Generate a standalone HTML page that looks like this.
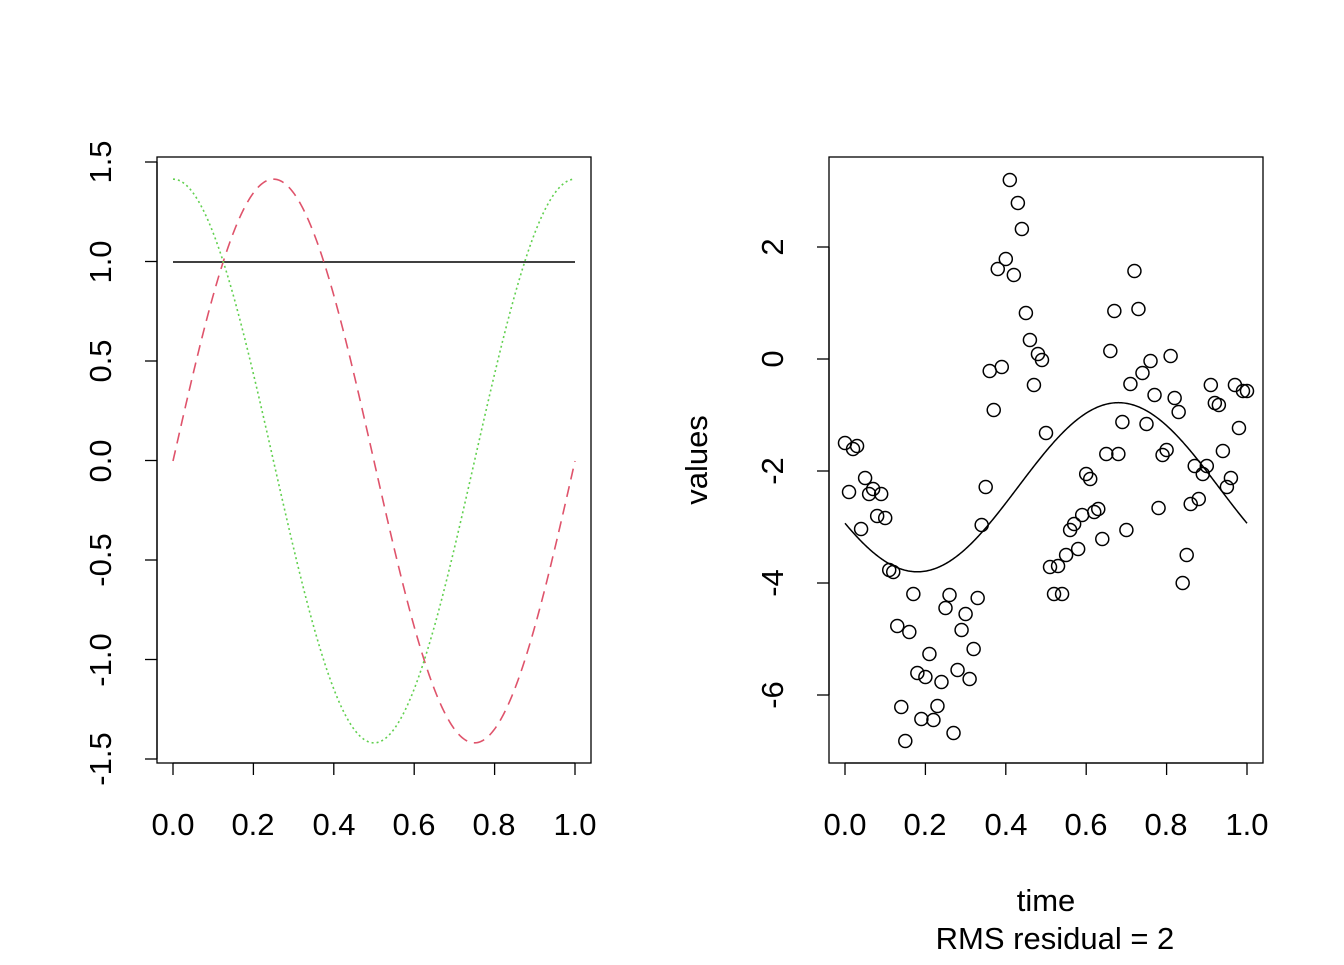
<!DOCTYPE html>
<html><head><meta charset="utf-8"><style>
html,body{margin:0;padding:0;background:#fff;}
svg text{font-family:"Liberation Sans",Arial,sans-serif;font-size:31px;fill:#000;}
</style></head><body>
<svg id="s" width="1344" height="960" xmlns="http://www.w3.org/2000/svg">
<rect width="1344" height="960" fill="#fff"/>
<rect x="157" y="157" width="434" height="606" fill="none" stroke="#000" stroke-width="1.3"/>
<g id="lx" stroke="#000" stroke-width="1.3"></g>
<g text-anchor="middle">
<text x="173" y="835">0.0</text><text x="253" y="835">0.2</text><text x="334" y="835">0.4</text>
<text x="414" y="835">0.6</text><text x="494" y="835">0.8</text><text x="575" y="835">1.0</text>
</g>
<g text-anchor="middle">
<text transform="translate(111,162) rotate(-90)">1.5</text>
<text transform="translate(111,262) rotate(-90)">1.0</text>
<text transform="translate(111,361) rotate(-90)">0.5</text>
<text transform="translate(111,461) rotate(-90)">0.0</text>
<text transform="translate(111,560) rotate(-90)">-0.5</text>
<text transform="translate(111,660) rotate(-90)">-1.0</text>
<text transform="translate(111,759) rotate(-90)">-1.5</text>
</g>
<line x1="173" y1="262" x2="575" y2="262" stroke="#000" stroke-width="1.5"/>
<path id="red" fill="none" stroke="#DF536B" stroke-width="1.6" stroke-dasharray="11,7"/>
<path id="grn" fill="none" stroke="#61D04F" stroke-width="1.6" stroke-dasharray="2,3"/>
<rect x="829" y="157" width="434" height="606" fill="none" stroke="#000" stroke-width="1.3"/>
<g id="rx" stroke="#000" stroke-width="1.3"></g>
<g text-anchor="middle">
<text x="845" y="835">0.0</text><text x="925" y="835">0.2</text><text x="1006" y="835">0.4</text>
<text x="1086" y="835">0.6</text><text x="1166" y="835">0.8</text><text x="1247" y="835">1.0</text>
<text transform="translate(783,247) rotate(-90)">2</text>
<text transform="translate(783,359) rotate(-90)">0</text>
<text transform="translate(783,471) rotate(-90)">-2</text>
<text transform="translate(783,583) rotate(-90)">-4</text>
<text transform="translate(783,695) rotate(-90)">-6</text>
<text transform="translate(707,460) rotate(-90)">values</text>
<text x="1046" y="911">time</text>
<text x="1055" y="949">RMS residual = 2</text>
</g>
<path id="fit" fill="none" stroke="#000" stroke-width="1.5"/>
<g id="pts" fill="none" stroke="#000" stroke-width="1.5"></g>
</svg>
<script>
var NS="http://www.w3.org/2000/svg";
function ln(g,x1,y1,x2,y2){var l=document.createElementNS(NS,"line");l.setAttribute("x1",x1);l.setAttribute("y1",y1);l.setAttribute("x2",x2);l.setAttribute("y2",y2);document.getElementById(g).appendChild(l);}
for(var i=0;i<=5;i++){var x=173+i*80.4;ln("lx",x,763,x,775);var xr=845+i*80.4;ln("rx",xr,763,xr,775);}
ln("lx",173,763,575,763);ln("rx",845,763,1247,763);
ln("lx",157,162,157,759);for(var j=0;j<7;j++){var y=162+j*99.5;ln("lx",145,y,157,y);}
ln("rx",829,247,829,695);for(var j=0;j<5;j++){var y=247+j*112;ln("rx",817,y,829,y);}
var r="",g="",f="";
for(var k=0;k<=400;k++){var t=k/400,x=173+t*402;
r+=(k?"L":"M")+x.toFixed(2)+","+(461-199.3*Math.SQRT2*Math.sin(2*Math.PI*t)).toFixed(2);
g+=(k?"L":"M")+x.toFixed(2)+","+(461-199.3*Math.SQRT2*Math.cos(2*Math.PI*t)).toFixed(2);
var v=-2.29+1.51*Math.sin(2*Math.PI*(t-0.43));
f+=(k?"L":"M")+(845+t*402).toFixed(2)+","+(359-56*v).toFixed(2);}
document.getElementById("red").setAttribute("d",r);
document.getElementById("grn").setAttribute("d",g);
document.getElementById("fit").setAttribute("d",f);
var P=[[845,443],[849,492],[853,449],[857,446],[861,529],[865,478],[869,494],[873,489],[877,516],[881,494],[885,518],[889,570],[893,572],[897,626],[901,707],[905,741],[909,632],[913,594],[917,673],[921,719],[925,677],[929,654],[933,720],[937,706],[941,682],[945,608],[949,595],[953,733],[957,670],[961,630],[965,614],[969,679],[973,649],[977,598],[981,525],[985,487],[989,371],[993,410],[997,269],[1001,367],[1005,259],[1009,180],[1013,275],[1017,203],[1021,229],[1025,313],[1029,340],[1033,385],[1037,354],[1041,360],[1045,433],[1049,567],[1053,594],[1057,566],[1061,594],[1065,555],[1069,530],[1073,524],[1077,549],[1081,515],[1085,474],[1089,479],[1093,512],[1097,509],[1101,539],[1105,454],[1109,351],[1113,311],[1117,454],[1121,422],[1125,530],[1129,384],[1133,271],[1137,309],[1141,373],[1145,424],[1149,361],[1153,395],[1157,508],[1161,455],[1165,450],[1169,356],[1173,398],[1177,412],[1181,583],[1185,555],[1189,504],[1193,466],[1197,499],[1201,474],[1205,466],[1209,385],[1213,403],[1217,405],[1221,451],[1225,487],[1229,478],[1233,385],[1237,428],[1241,391],[1247,391]];
var pg=document.getElementById("pts");
P.forEach(function(p){var c=document.createElementNS(NS,"circle");var x=845+(p[0]-845)*1.005;if(x>1247)x=1247;c.setAttribute("cx",x);c.setAttribute("cy",p[1]);c.setAttribute("r",6.5);pg.appendChild(c);});
</script>
</body></html>
